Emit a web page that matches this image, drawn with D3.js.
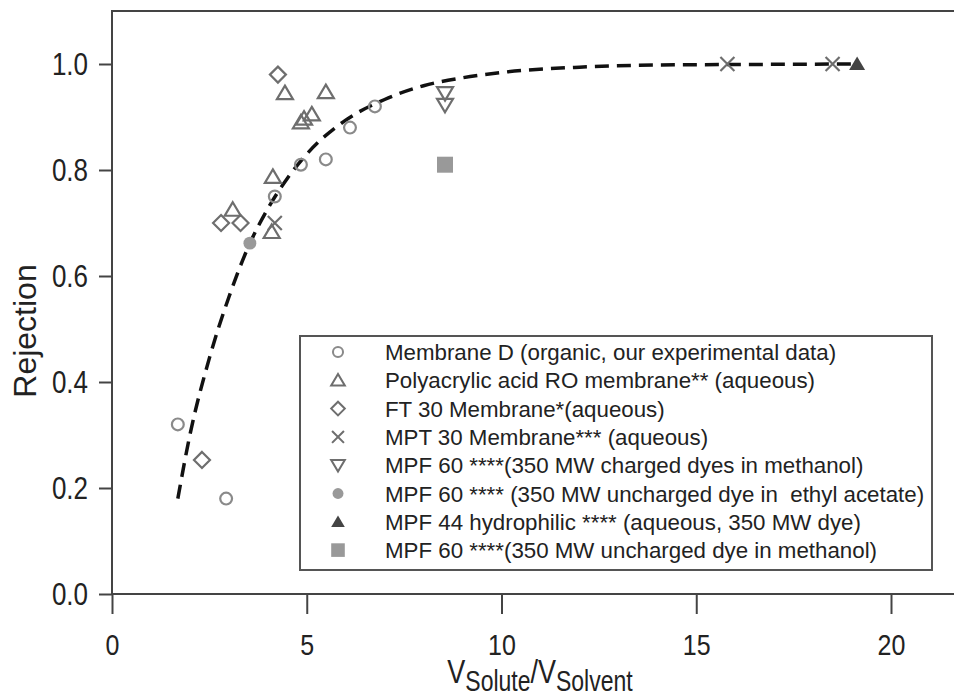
<!DOCTYPE html>
<html>
  <head>
    <meta charset="utf-8">
    <title>Rejection vs volume ratio</title>
    <style>
      body { margin: 0; background: #fff; }
      svg text { font-family: "Liberation Sans", Arial, sans-serif; fill: #222; }
    </style>
  </head>
  <body>
    <script src="https://d3js.org/d3.v7.min.js"></script>
    <script type="text/javascript">
      // values
      var xTicks = [0, 5, 10, 15, 20];
      var yTicks = [0.0, 0.2, 0.4, 0.6, 0.8, 1.0];

      var membraneDX = [1.69, 2.93, 4.18, 4.85, 5.49, 6.11, 6.75];
      var membraneDY = [0.32, 0.18, 0.75, 0.81, 0.82, 0.88, 0.92];
      var polyacrylicX = [4.44, 5.49, 4.85, 4.93, 5.13, 4.13, 3.10, 4.10];
      var polyacrylicY = [0.945, 0.947, 0.89, 0.897, 0.905, 0.787, 0.725, 0.683];
      var ft30X = [4.26, 2.80, 3.30, 2.31];
      var ft30Y = [0.98, 0.70, 0.70, 0.253];
      var mpt30X = [4.18, 15.8, 18.5];
      var mpt30Y = [0.70, 1.0, 1.0];
      var mpf60ChargedX = [8.55, 8.55];
      var mpf60ChargedY = [0.945, 0.923];
      var mpf60EthylX = [3.54];
      var mpf60EthylY = [0.662];
      var mpf44X = [19.13];
      var mpf44Y = [1.0];
      var mpf60MethanolX = [8.55];
      var mpf60MethanolY = [0.81];

      // dashed fit line
      var fitX = [1.69, 2.0, 2.5, 3.0, 3.5, 4.0, 4.5, 5.0, 6.0, 7.0, 8.0, 9.0, 10.0, 12.0, 14.0, 16.0, 19.2];
      var fitY = [0.18, 0.30, 0.445, 0.56, 0.655, 0.727, 0.784, 0.83, 0.894, 0.933, 0.959, 0.974, 0.984, 0.994, 0.998, 0.999, 1.0];

      var legendLabels = [
        'Membrane D (organic, our experimental data)',
        'Polyacrylic acid RO membrane** (aqueous)',
        'FT 30 Membrane*(aqueous)',
        'MPT 30 Membrane*** (aqueous)',
        'MPF 60 ****(350 MW charged dyes in methanol)',
        'MPF 60 **** (350 MW uncharged dye in  ethyl acetate)',
        'MPF 44 hydrophilic **** (aqueous, 350 MW dye)',
        'MPF 60 ****(350 MW uncharged dye in methanol)'
      ];

      var series = [
        { xs: membraneDX, ys: membraneDY, shape: 'circle', fill: 'none', stroke: '#8a8a8a' },
        { xs: polyacrylicX, ys: polyacrylicY, shape: 'triUp', fill: 'none', stroke: '#6e6e6e' },
        { xs: ft30X, ys: ft30Y, shape: 'diamond', fill: 'none', stroke: '#6e6e6e' },
        { xs: mpt30X, ys: mpt30Y, shape: 'cross', fill: 'none', stroke: '#6e6e6e' },
        { xs: mpf60ChargedX, ys: mpf60ChargedY, shape: 'triDown', fill: 'none', stroke: '#6e6e6e' },
        { xs: mpf60EthylX, ys: mpf60EthylY, shape: 'dot', fill: '#999', stroke: 'none' },
        { xs: mpf44X, ys: mpf44Y, shape: 'triFill', fill: '#444', stroke: 'none' },
        { xs: mpf60MethanolX, ys: mpf60MethanolY, shape: 'square', fill: '#999', stroke: 'none' }
      ];

      var w = 954;
      var h = 700;
      var plotLeft = 112, plotTop = 11, plotBottom = 594;
      var stretch = 1.2; // the reference text is a bit taller than it is wide

      var svg = d3.select('body').append('svg').attr('width', w).attr('height', h);

      var xScale = d3.scaleLinear().domain([0, 20]).range([plotLeft, 891]);
      var yScale = d3.scaleLinear().domain([0, 1]).range([plotBottom, 64]);

      // frame (right side runs off the picture)
      svg.append('path')
        .attr('d', 'M' + (w + 10) + ',' + plotTop + 'H' + plotLeft + 'V' + plotBottom + 'H' + (w + 10))
        .attr('fill', 'none').attr('stroke', '#444').attr('stroke-width', 2);

      var xAxis = svg.append('g')
        .attr('transform', 'translate(0,' + plotBottom + ')')
        .call(d3.axisBottom(xScale).tickValues(xTicks).tickSize(20).tickFormat(d3.format('d')));
      xAxis.select('.domain').remove();
      xAxis.selectAll('line').attr('stroke', '#444').attr('stroke-width', 2);
      xAxis.selectAll('text')
        .attr('font-size', 25).attr('fill', '#222')
        .attr('y', 61 / stretch).attr('dy', 0)
        .attr('transform', 'scale(1,' + stretch + ')');

      var yAxis = svg.append('g')
        .attr('transform', 'translate(' + plotLeft + ',0)')
        .call(d3.axisLeft(yScale).tickValues(yTicks).tickSize(13).tickPadding(11).tickFormat(d3.format('.1f')));
      yAxis.select('.domain').remove();
      yAxis.selectAll('line').attr('stroke', '#444').attr('stroke-width', 2);
      yAxis.selectAll('text')
        .attr('font-size', 26).attr('fill', '#222')
        .attr('dy', '0.33em')
        .attr('transform', 'scale(1,' + stretch + ')');

      // axis titles
      svg.append('text')
        .attr('transform', 'translate(36,331) rotate(-90)')
        .attr('text-anchor', 'middle')
        .attr('font-size', 32)
        .text('Rejection');

      var xt = svg.append('text')
        .attr('transform', 'translate(540,683) scale(1,1.25)')
        .attr('text-anchor', 'middle')
        .attr('font-size', 27);
      xt.append('tspan').text('V');
      xt.append('tspan').attr('font-size', 23).attr('dy', 6).text('Solute');
      xt.append('tspan').attr('dy', -6).text('/V');
      xt.append('tspan').attr('font-size', 23).attr('dy', 6).text('Solvent');

      // marker paths centred on 0,0
      function marker(shape) {
        switch (shape) {
          case 'circle': return d3.symbol(d3.symbolCircle, 110)();
          case 'dot': return d3.symbol(d3.symbolCircle, 130)();
          case 'triUp':
          case 'triFill': return 'M0,-7.5L8,6L-8,6Z';
          case 'triDown': return 'M0,7.5L8,-6L-8,-6Z';
          case 'diamond': return 'M0,-8L8,0L0,8L-8,0Z';
          case 'cross': return 'M-7,-7L7,7M-7,7L7,-7';
          case 'square': return 'M-8,-8H8V8H-8Z';
        }
      }

      // fitted curve
      var fitLine = d3.line()
        .x(function(d, i) { return xScale(fitX[i]); })
        .y(function(d, i) { return yScale(fitY[i]); })
        .curve(d3.curveMonotoneX);
      svg.append('path')
        .attr('d', fitLine(fitX))
        .attr('fill', 'none')
        .attr('stroke', '#111')
        .attr('stroke-width', 3.5)
        .attr('stroke-dasharray', '14,8');

      series.forEach(function(s) {
        svg.append('g').selectAll('path')
          .data(s.xs)
          .enter()
          .append('path')
          .attr('d', marker(s.shape))
          .attr('transform', function(d, i) {
            return 'translate(' + xScale(d) + ',' + yScale(s.ys[i]) + ')';
          })
          .attr('fill', s.fill)
          .attr('stroke', s.stroke)
          .attr('stroke-width', 2.2);
      });

      // legend
      var legend = svg.append('g');
      legend.append('rect')
        .attr('x', 300).attr('y', 336).attr('width', 632).attr('height', 234)
        .attr('fill', '#fff').attr('stroke', '#555').attr('stroke-width', 2);

      var rows = legend.selectAll('g.row')
        .data(legendLabels)
        .enter()
        .append('g')
        .attr('class', 'row')
        .attr('transform', function(d, i) { return 'translate(0,' + (352 + i * 28.3) + ')'; });

      rows.append('path')
        .attr('transform', 'translate(338,0) scale(0.85)')
        .attr('d', function(d, i) { return marker(series[i].shape); })
        .attr('fill', function(d, i) { return series[i].fill; })
        .attr('stroke', function(d, i) { return series[i].stroke; })
        .attr('stroke-width', 2.4);

      rows.append('text')
        .attr('x', 385).attr('y', 0).attr('dy', '0.36em')
        .attr('font-size', 22.3)
        .attr('xml:space', 'preserve')
        .text(function(d) { return d; });
    </script>
  </body>
</html>
